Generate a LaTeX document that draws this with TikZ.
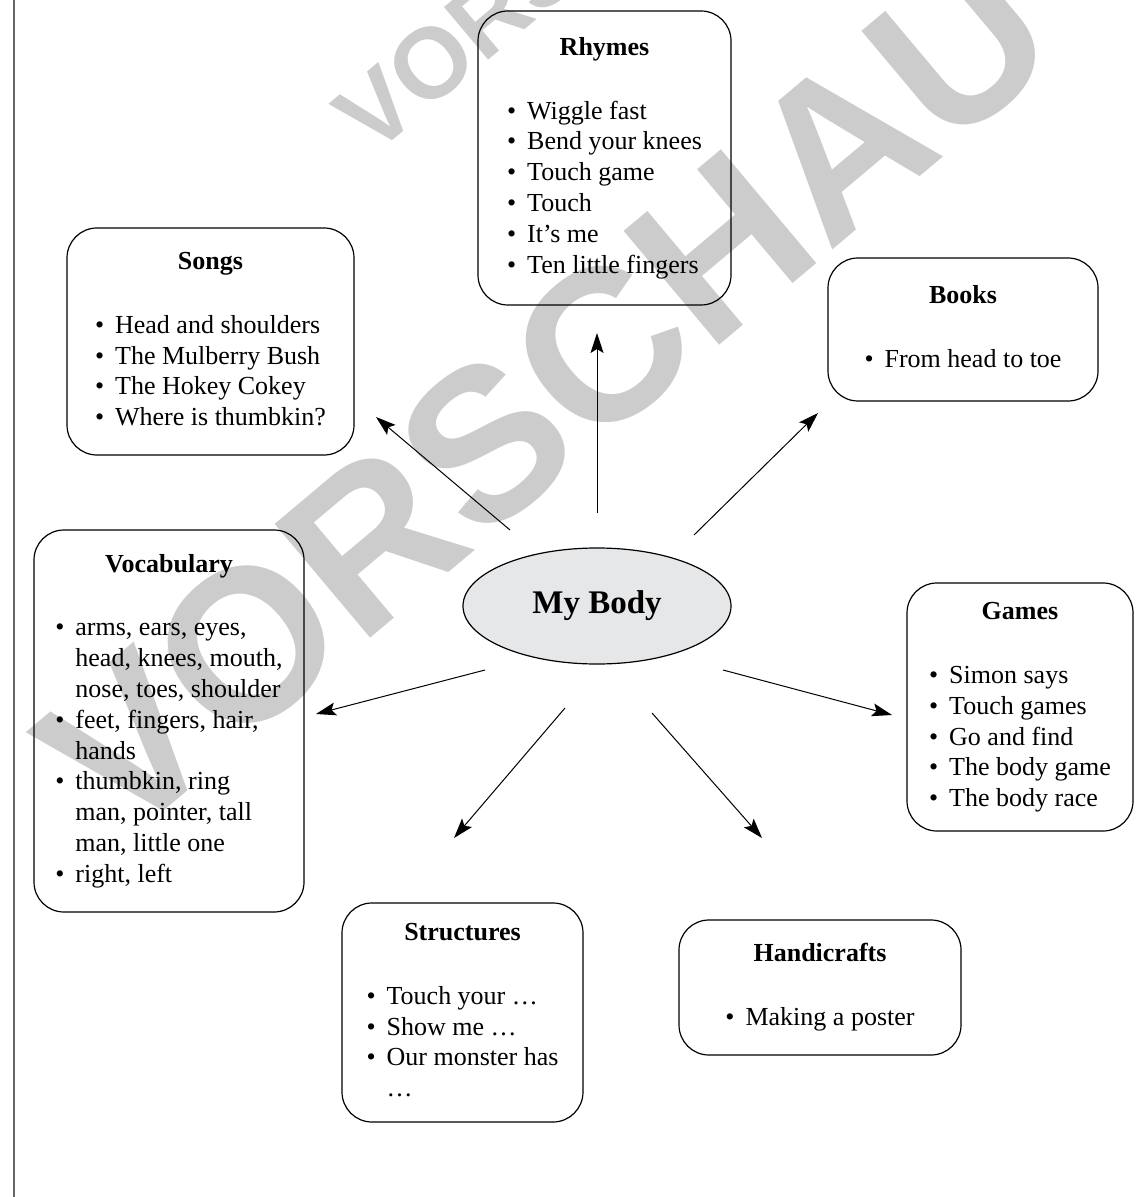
\documentclass[tikz,border=0pt]{standalone}
\usepackage{fontspec}
\setmainfont{Liberation Serif}
\newfontfamily\stampfont{Liberation Sans}
\usetikzlibrary{arrows.meta,shapes.geometric}

\definecolor{bodyfill}{RGB}{230,231,233}
\definecolor{stampgray}{RGB}{204,204,204}

% title, one empty line, then the bullet rows
\newcommand{\topiclist}[2]{%
  \begin{tabular}{@{}l@{\hspace{5.5pt}}l@{}}
  \multicolumn{2}{c}{\bfseries #1}\\[16.5pt]
  #2
  \end{tabular}}

\begin{document}
\begin{tikzpicture}[x=0.5pt,y=-0.5pt]
\tikzset{topic/.style = {draw, rounded corners=15pt, inner sep=0pt, line width=0.6pt, font=\fontsize{13}{15.4}\selectfont}}
\tikzset{spoke/.style = {-{Stealth[length=10pt,width=6.5pt,inset=2pt]}, line width=0.5pt}}
\tikzset{stamp/.style = {text=stampgray, rotate=40, anchor=base west, inner sep=0pt}}

\useasboundingbox (0,0) rectangle (1142,1197);

%watermark
\node[stamp, font=\stampfont\bfseries\fontsize{108}{108}\selectfont] (stampbig) at (120,848) {VORSCHAU};
\node[stamp, font=\stampfont\bfseries\fontsize{50}{50}\selectfont] (stampsmall) at (372,158) {VORSCHAU};

%margin
\draw[black!60, line width=0.7pt] (14,0) -- (14,1197);

\node[ellipse, draw, fill=bodyfill, line width=0.6pt, inner sep=0pt, minimum width=134pt, minimum height=58pt, font=\bfseries\fontsize{16.5}{20}\selectfont] (body) at (597,606) {My Body};

\node[topic, minimum width=126.5pt, minimum height=147pt] (rhymes) at (604.5,158) {\topiclist{Rhymes}{%
  \textbullet & Wiggle fast\\
  \textbullet & Bend your knees\\
  \textbullet & Touch game\\
  \textbullet & Touch\\
  \textbullet & It’s me\\
  \textbullet & Ten little fingers}};
\node[topic, minimum width=143.5pt, minimum height=113.5pt] (songs) at (210.5,341.5) {\topiclist{Songs}{%
  \textbullet & Head and shoulders\\
  \textbullet & The Mulberry Bush\\
  \textbullet & The Hokey Cokey\\
  \textbullet & Where is thumbkin?}};
\node[topic, minimum width=135pt, minimum height=71.5pt] (books) at (963,329.5) {\topiclist{Books}{%
  \textbullet & From head to toe}};
\node[topic, minimum width=135pt, minimum height=191pt] (vocab) at (169,721) {\topiclist{Vocabulary}{%
  \textbullet & arms, ears, eyes,\\
              & head, knees, mouth,\\
              & nose, toes, shoulder\\
  \textbullet & feet, fingers, hair,\\
              & hands\\
  \textbullet & thumbkin, ring\\
              & man, pointer, tall\\
              & man, little one\\
  \textbullet & right, left}};
\node[topic, minimum width=113pt, minimum height=124pt] (games) at (1020,707) {\topiclist{Games}{%
  \textbullet & Simon says\\
  \textbullet & Touch games\\
  \textbullet & Go and find\\
  \textbullet & The body game\\
  \textbullet & The body race}};
\node[topic, minimum width=120.5pt, minimum height=109.5pt] (struct) at (462.5,1012.5) {\topiclist{Structures}{%
  \textbullet & Touch your …\\
  \textbullet & Show me …\\
  \textbullet & Our monster has\\
              & …}};
\node[topic, minimum width=141pt, minimum height=67.5pt] (handi) at (820,987.5) {\topiclist{Handicrafts}{%
  \textbullet & Making a poster}};

%spoke ends
\coordinate (rhymes-out) at (597,513);
\coordinate (rhymes-in)  at (597,333);
\coordinate (songs-out)  at (510,530);
\coordinate (songs-in)   at (376,417);
\coordinate (books-out)  at (694,535);
\coordinate (books-in)   at (818,413);
\coordinate (vocab-out)  at (485,670);
\coordinate (vocab-in)   at (316,714);
\coordinate (games-out)  at (723,670);
\coordinate (games-in)   at (892,715);
\coordinate (struct-out) at (565,708);
\coordinate (struct-in)  at (454,838);
\coordinate (handi-out)  at (652,713);
\coordinate (handi-in)   at (762,838);

%spokes
\draw[spoke] (rhymes-out) -- (rhymes-in);
\draw[spoke] (songs-out)  -- (songs-in);
\draw[spoke] (books-out)  -- (books-in);
\draw[spoke] (vocab-out)  -- (vocab-in);
\draw[spoke] (games-out)  -- (games-in);
\draw[spoke] (struct-out) -- (struct-in);
\draw[spoke] (handi-out)  -- (handi-in);
\end{tikzpicture}
\end{document}
